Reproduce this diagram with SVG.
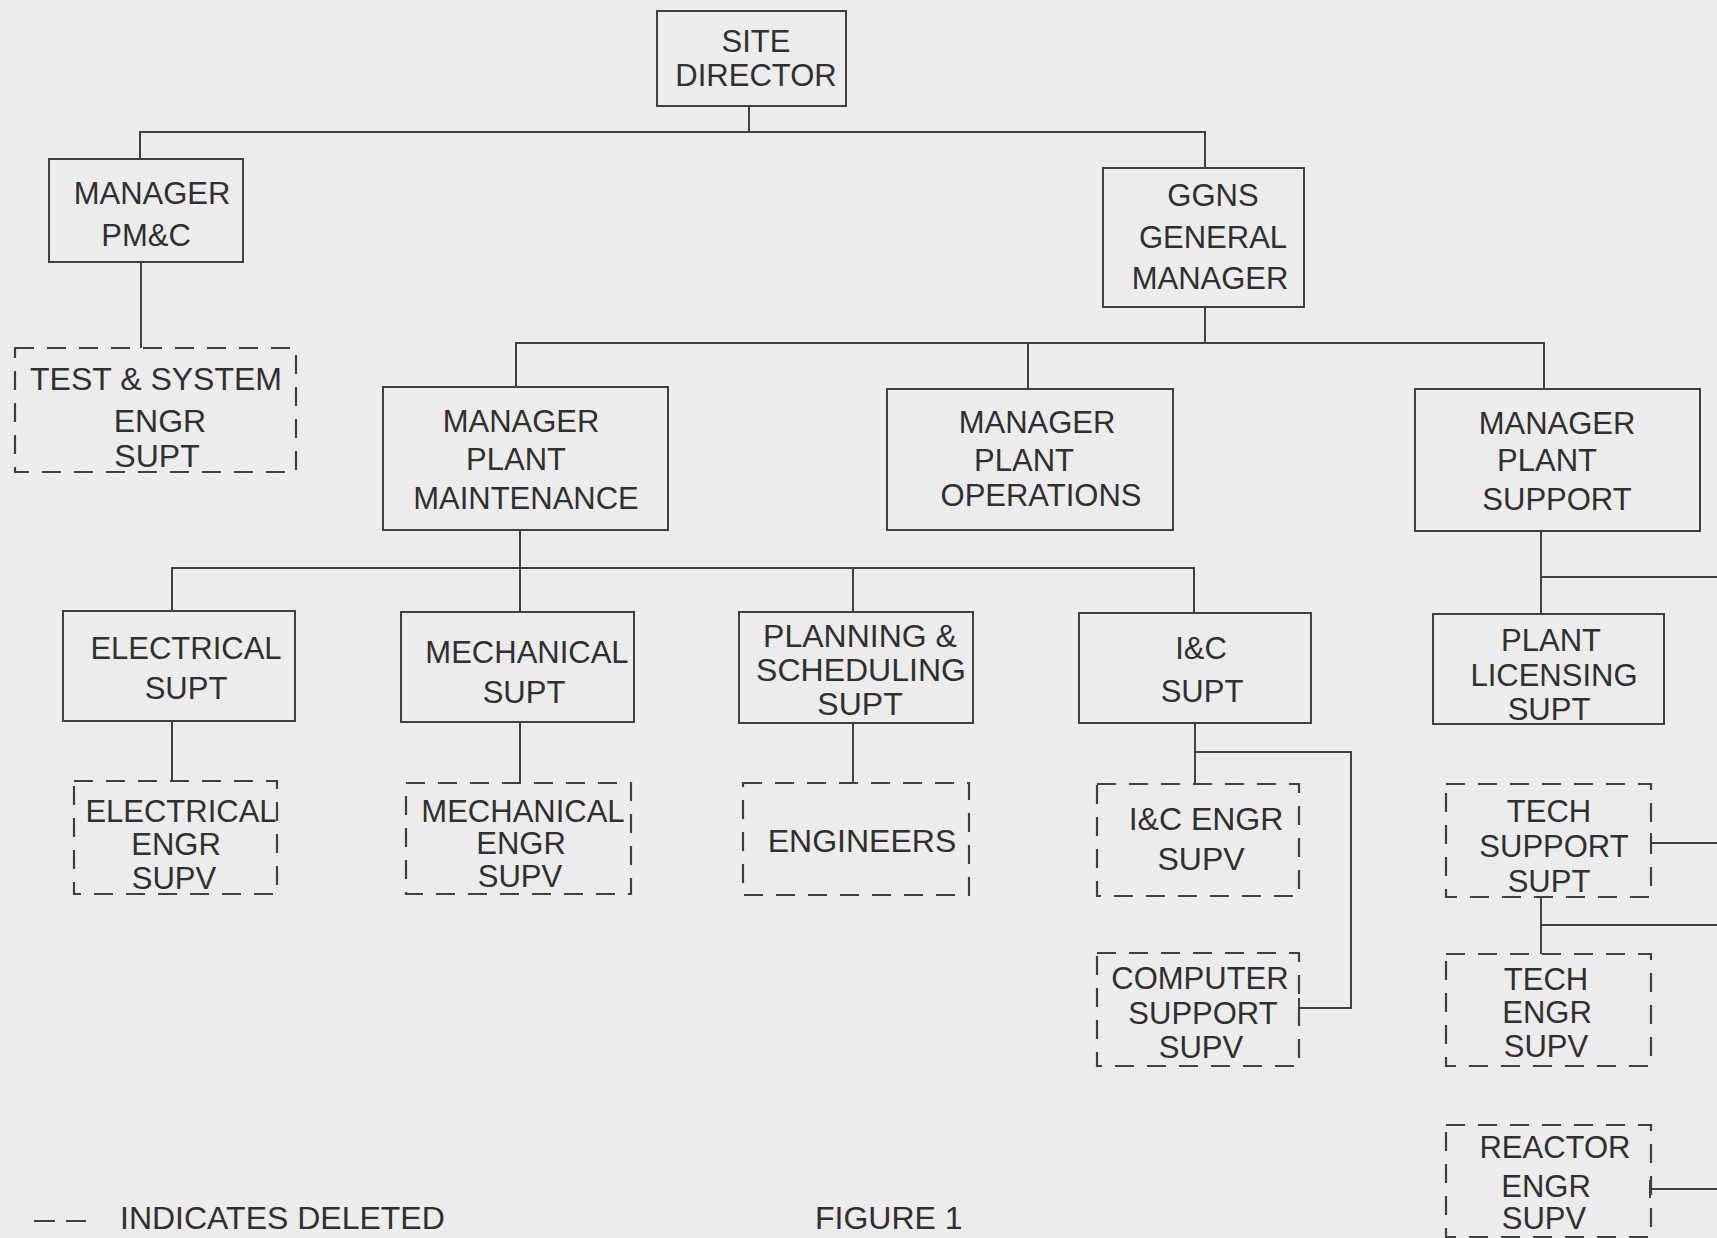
<svg xmlns="http://www.w3.org/2000/svg" width="1717" height="1238" viewBox="0 0 1717 1238">
<style>
.bg{fill:#ececec}
.box{fill:none;stroke:#404040;stroke-width:2}
.dbox{fill:none;stroke:#404040;stroke-width:2.2;stroke-dasharray:19 13}
.conn{fill:none;stroke:#404040;stroke-width:2}
text{font-family:"Liberation Sans",Arial,sans-serif;font-size:31px;fill:#303030;text-anchor:middle}
.w{font-size:32px}
.s32{font-size:32px}
.l{text-anchor:start}
</style>
<rect class="bg" x="0" y="0" width="1717" height="1238"/>
<g id="connectors">
<path class="conn" d="M749,106 V132"/>
<path class="conn" d="M140,159 V132 H1205 V168"/>
<path class="conn" d="M141,262 V348"/>
<path class="conn" d="M1205,307 V343"/>
<path class="conn" d="M516,387 V343 H1544 V389"/>
<path class="conn" d="M1028,343 V389"/>
<path class="conn" d="M520,530 V568"/>
<path class="conn" d="M172,611 V568 H1194 V613"/>
<path class="conn" d="M520,568 V612"/>
<path class="conn" d="M853,568 V612"/>
<path class="conn" d="M172,721 V781"/>
<path class="conn" d="M520,722 V783"/>
<path class="conn" d="M853,723 V783"/>
<path class="conn" d="M1195,723 V784"/>
<path class="conn" d="M1195,752 H1351 V1008 H1299 M1299,998 V1018"/>
<path class="conn" d="M1541,531 V614"/>
<path class="conn" d="M1541,577 H1717"/>
<path class="conn" d="M1651,843 H1717 M1651,833 V853"/>
<path class="conn" d="M1541,898 V954"/>
<path class="conn" d="M1541,925 H1717"/>
<path class="conn" d="M1650,1189 H1717 M1650,1180 V1198"/>
</g>
<g id="site-director">
<rect class="box" x="657" y="11" width="189" height="95"/>
<text x="756" y="52">SITE</text>
<text x="756" y="86">DIRECTOR</text>
</g>
<g id="manager-pmc">
<rect class="box" x="49" y="159" width="194" height="103"/>
<text x="152" y="204">MANAGER</text>
<text x="146" y="246">PM&amp;C</text>
</g>
<g id="test-system">
<rect class="dbox" x="15" y="348" width="281" height="124"/>
<text class="s32" x="156" y="390">TEST &amp; SYSTEM</text>
<text class="s32" x="160" y="432">ENGR</text>
<text class="s32" x="157" y="467">SUPT</text>
</g>
<g id="ggns-general-manager">
<rect class="box" x="1103" y="168" width="201" height="139"/>
<text x="1213" y="206">GGNS</text>
<text x="1213" y="248">GENERAL</text>
<text x="1210" y="289">MANAGER</text>
</g>
<g id="manager-plant-maintenance">
<rect class="box" x="383" y="387" width="285" height="143"/>
<text x="521" y="432">MANAGER</text>
<text x="516" y="470">PLANT</text>
<text x="526" y="509">MAINTENANCE</text>
</g>
<g id="manager-plant-operations">
<rect class="box" x="887" y="389" width="286" height="141"/>
<text x="1037" y="433">MANAGER</text>
<text x="1024" y="471">PLANT</text>
<text x="1041" y="506">OPERATIONS</text>
</g>
<g id="manager-plant-support">
<rect class="box" x="1415" y="389" width="285" height="142"/>
<text x="1557" y="434">MANAGER</text>
<text x="1547" y="471">PLANT</text>
<text x="1557" y="510">SUPPORT</text>
</g>
<g id="electrical-supt">
<rect class="box" x="63" y="611" width="232" height="110"/>
<text x="186" y="659">ELECTRICAL</text>
<text x="186" y="699">SUPT</text>
</g>
<g id="mechanical-supt">
<rect class="box" x="401" y="612" width="233" height="110"/>
<text x="527" y="663">MECHANICAL</text>
<text x="524" y="703">SUPT</text>
</g>
<g id="planning-scheduling-supt">
<rect class="box" x="739" y="612" width="234" height="111"/>
<text class="w" x="860" y="647">PLANNING &amp;</text>
<text class="w" x="861" y="681">SCHEDULING</text>
<text class="w" x="860" y="715">SUPT</text>
</g>
<g id="ic-supt">
<rect class="box" x="1079" y="613" width="232" height="110"/>
<text x="1201" y="659">I&amp;C</text>
<text x="1202" y="702">SUPT</text>
</g>
<g id="plant-licensing-supt">
<rect class="box" x="1433" y="614" width="231" height="110"/>
<text x="1551" y="651">PLANT</text>
<text x="1554" y="686">LICENSING</text>
<text x="1549" y="720">SUPT</text>
</g>
<g id="electrical-engr-supv">
<rect class="dbox" x="74" y="781" width="203" height="113"/>
<text x="181" y="822">ELECTRICAL</text>
<text x="176" y="855">ENGR</text>
<text x="174" y="889">SUPV</text>
</g>
<g id="mechanical-engr-supv">
<rect class="dbox" x="406" y="783" width="225" height="111"/>
<text x="523" y="822">MECHANICAL</text>
<text x="521" y="854">ENGR</text>
<text x="520" y="887">SUPV</text>
</g>
<g id="engineers">
<rect class="dbox" x="743" y="783" width="226" height="112"/>
<text class="s32" x="862" y="852">ENGINEERS</text>
</g>
<g id="ic-engr-supv">
<rect class="dbox" x="1097" y="784" width="202" height="112"/>
<text class="s32" x="1206" y="830">I&amp;C ENGR</text>
<text class="s32" x="1201" y="870">SUPV</text>
</g>
<g id="computer-support-supv">
<rect class="dbox" x="1097" y="953" width="202" height="113"/>
<text x="1200" y="989">COMPUTER</text>
<text x="1203" y="1024">SUPPORT</text>
<text x="1201" y="1058">SUPV</text>
</g>
<g id="tech-support-supt">
<rect class="dbox" x="1446" y="784" width="205" height="113"/>
<text x="1549" y="822">TECH</text>
<text x="1554" y="857">SUPPORT</text>
<text x="1549" y="892">SUPT</text>
</g>
<g id="tech-engr-supv">
<rect class="dbox" x="1446" y="954" width="205" height="112"/>
<text x="1546" y="990">TECH</text>
<text x="1547" y="1023">ENGR</text>
<text x="1546" y="1057">SUPV</text>
</g>
<g id="reactor-engr-supv">
<rect class="dbox" x="1446" y="1125" width="205" height="112"/>
<text x="1555" y="1158">REACTOR</text>
<text x="1546" y="1197">ENGR</text>
<text x="1544" y="1229">SUPV</text>
</g>
<g id="legend">
<path class="conn" d="M34,1221 H55 M66,1221 H86"/>
<text class="s32 l" x="120" y="1229">INDICATES DELETED</text>
<text class="s32 l" x="815" y="1229">FIGURE  1</text>
</g>
</svg>
